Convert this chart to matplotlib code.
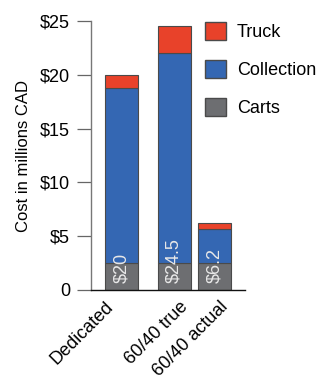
import matplotlib
matplotlib.use('Agg')
import matplotlib.pyplot as plt
import matplotlib.transforms as mtransforms
from matplotlib.patches import Patch

plt.rcParams['font.family'] = ['Liberation Sans', 'DejaVu Sans']

# Cost breakdown per collection scenario, in millions CAD
scenarios = ['Dedicated', '60/40 true', '60/40 actual']
carts = [2.5, 2.5, 2.5]
collection = [16.25, 19.5, 3.2]
truck = [1.25, 2.5, 0.5]
total_labels = ['$20', '$24.5', '$6.2']

yticks = [0, 5, 10, 15, 20, 25]
ytick_labels = ['0', '$5', '$10', '$15', '$20', '$25']

# bar centres (the two 60/40 bars sit closer together)
xpos = [0, 1.6, 2.83]
# horizontal nudge of each category label, in points
label_shift = [-12, 3.5, 3.5]

C_TRUCK = '#E8422A'
C_COLL = '#3467B3'
C_CARTS = '#6D6E71'
EDGE = '#4a4a4a'
FS = 13

fig = plt.figure(figsize=(3.2, 3.77), dpi=100)
ax = fig.add_axes([91 / 320, 1 - 290 / 377, 154 / 320, 269 / 377])

bottom2 = [c + k for c, k in zip(carts, collection)]
ax.bar(xpos, carts, width=1.0, color=C_CARTS, edgecolor=EDGE, linewidth=0.8)
ax.bar(xpos, collection, width=1.0, bottom=carts, color=C_COLL,
       edgecolor=EDGE, linewidth=0.8)
ax.bar(xpos, truck, width=1.0, bottom=bottom2, color=C_TRUCK,
       edgecolor=EDGE, linewidth=0.8)

for x, lab in zip(xpos, total_labels):
    ax.text(x, 0.65, lab, rotation=90, ha='center', va='bottom',
            color='#e8e8e8', fontsize=FS)

ax.set_xlim(-0.92, 3.74)
ax.set_ylim(0, 25)
ax.set_yticks(yticks)
ax.set_yticklabels(ytick_labels, fontsize=FS)
ax.tick_params(axis='y', length=10, width=0.9, color='#666666', pad=5)
ax.set_xticks(xpos)
ax.set_xticklabels(scenarios, rotation=45, ha='right',
                   rotation_mode='anchor', fontsize=FS)
ax.tick_params(axis='x', length=0, pad=6)
for lbl, dx in zip(ax.get_xticklabels(), label_shift):
    lbl.set_transform(lbl.get_transform() +
                      mtransforms.ScaledTranslation(dx / 72, 0,
                                                    fig.dpi_scale_trans))

for side in ['top', 'right']:
    ax.spines[side].set_visible(False)
ax.spines['left'].set_color('#777777')
ax.spines['left'].set_linewidth(1.0)
ax.spines['bottom'].set_color('#111111')
ax.spines['bottom'].set_linewidth(1.0)

ax.set_ylabel('Cost in millions CAD', fontsize=12)
ax.yaxis.set_label_coords(-60 / 154, 0.5)

handles = [Patch(facecolor=C_TRUCK, edgecolor=EDGE, label='Truck'),
           Patch(facecolor=C_COLL, edgecolor=EDGE, label='Collection'),
           Patch(facecolor=C_CARTS, edgecolor=EDGE, label='Carts')]
fig.legend(handles=handles, loc='upper left',
           bbox_to_anchor=(205 / 320, 1 - 22 / 377), frameon=False,
           fontsize=FS, handlelength=1.17, handleheight=1.17,
           labelspacing=1.05, handletextpad=0.6, borderpad=0,
           borderaxespad=0)

fig.savefig('out.png', dpi=100)
